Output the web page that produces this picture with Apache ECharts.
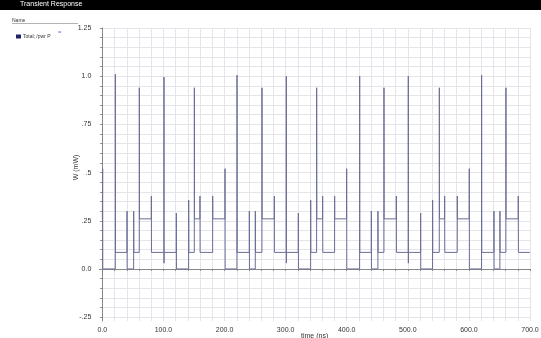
<!DOCTYPE html>
<html>
<head>
<meta charset="utf-8">
<script src="https://cdn.jsdelivr.net/npm/echarts@6/dist/echarts.min.js"></script>
<style>
html,body{margin:0;padding:0;background:#fff;}
#chart{width:541px;height:338px;}
</style>
</head>
<body>
<div id="chart"></div>
<script>
// ---- data ----
const seriesName = "Total; /pwr P";
const startLevel = 0.26;
const eventTimes = [0.4, 21.2, 40.3, 51.2, 60.4, 80.1, 100.8, 121.0, 141.2, 150.5, 159.7, 180.5,
                    200.7, 220.3, 240.5, 250.3, 261.2, 281.4, 301.0, 320.7, 340.9, 350.7, 360.5, 380.1,
                    399.8, 421.1, 440.2, 451.0, 460.9, 481.1, 500.7, 520.9, 540.5, 551.5, 560.2, 580.9,
                    600.5, 620.7, 640.9, 650.7, 660.5, 680.7];
const eventPeaks = [0.52, 1.01, 0.30, 0.30, 0.94, 0.378, 0.996, 0.29, 0.357, 0.94, 0.378, 0.378,
                    0.52, 1.005, 0.30, 0.30, 0.94, 0.378, 1.0, 0.29, 0.357, 0.94, 0.378, 0.378,
                    0.52, 1.0, 0.30, 0.30, 0.94, 0.378, 1.0, 0.29, 0.357, 0.94, 0.378, 0.378,
                    0.52, 1.005, 0.30, 0.30, 0.94, 0.378];
const eventDips  = [null, null, null, null, null, null, 0.03, null, null, null, null, null,
                    null, null, null, null, null, null, 0.03, null, null, null, null, null,
                    null, null, null, null, null, null, 0.03, null, null, null, null, null,
                    null, null, null, null, null, null];
const levelsAfter = [0, 0.086, 0, 0.086, 0.26, 0.086, 0.086, 0, 0.086, 0.26, 0.086, 0.26,
                     0, 0.086, 0, 0.086, 0.26, 0.086, 0.086, 0, 0.086, 0.26, 0.086, 0.26,
                     0, 0.086, 0, 0.086, 0.26, 0.086, 0.086, 0, 0.086, 0.26, 0.086, 0.26,
                     0, 0.086, 0, 0.086, 0.26, 0.086];
const endTime = 700;

const xTickValues = [0, 100, 200, 300, 400, 500, 600, 700];
const xTickLabels = ["0.0", "100.0", "200.0", "300.0", "400.0", "500.0", "600.0", "700.0"];
const yTickValues = [-0.25, 0, 0.25, 0.5, 0.75, 1.0, 1.25];
const yTickLabels = ["-.25", "0.0", ".25", ".5", ".75", "1.0", "1.25"];

// ---- build series ----
const wave = [[0, startLevel]];
let prev = startLevel;
for (let i = 0; i < eventTimes.length; i++) {
  const t = eventTimes[i];
  wave.push([t, prev]);
  wave.push([t + 0.1, eventPeaks[i]]);
  if (eventDips[i] !== null) wave.push([t + 0.2, eventDips[i]]);
  wave.push([t + 0.3, levelsAfter[i]]);
  prev = levelsAfter[i];
}
wave.push([endTime, prev]);

const xMinor = [];
for (let k = 0; k <= 35; k++) xMinor.push(k * 20);
const yMinor = [];
for (let k = -5; k <= 25; k++) yMinor.push(Math.round(k * 5) / 100);

const FONT = "Liberation Sans";
const chart = echarts.init(document.getElementById('chart'), null, {renderer: 'canvas'});
chart.setOption({
  animation: false,
  backgroundColor: '#ffffff',
  title: {
    text: 'Transient Response',
    left: 20, top: 1, padding: 0,
    textStyle: {color: '#ffffff', fontSize: 7, fontWeight: 'normal', fontFamily: FONT}
  },
  graphic: [
    {type: 'rect', z: -1, shape: {x: 0, y: 0, width: 541, height: 10}, style: {fill: '#000000'}},
    {type: 'text', left: 12, top: 18, style: {text: 'Name', fontSize: 5, fill: '#333', fontFamily: FONT}},
    {type: 'line', shape: {x1: 12, y1: 23.5, x2: 78, y2: 23.5}, style: {stroke: '#666', lineWidth: 0.5}},
    {type: 'text', left: 58, top: 29, style: {text: '≈', fontSize: 6, fill: '#4a5bd0', fontFamily: FONT}}
  ],
  legend: {
    left: 11, top: 29, orient: 'vertical',
    icon: 'rect', itemWidth: 5, itemHeight: 4, itemGap: 2,
    textStyle: {fontSize: 5, color: '#333', fontFamily: FONT, padding: [0, 0, 0, -3]},
    data: [seriesName]
  },
  grid: {left: 99.3, right: 11, top: 28, bottom: 17, containLabel: false, outerBoundsMode: 'none'},
  xAxis: {
    type: 'value', min: -5, max: 700,
    name: 'time (ns)', nameLocation: 'middle', nameGap: 12, nameMoveOverlap: false,
    nameTextStyle: {fontSize: 7, color: '#333', fontFamily: FONT},
    axisLine: {show: true, lineStyle: {color: '#888', width: 1}},
    axisTick: {show: true, length: 2, customValues: xMinor, lineStyle: {color: '#888'}},
    axisLabel: {
      customValues: xTickValues, margin: 6, fontSize: 7, color: '#333', fontFamily: FONT,
      formatter: v => { const i = xTickValues.indexOf(v); return i >= 0 ? xTickLabels[i] : ''; }
    },
    splitLine: {show: true, lineStyle: {color: '#e4e4ea', width: 1}}
  },
  yAxis: {
    type: 'value', min: -0.27, max: 1.25,
    name: 'W (mW)', nameLocation: 'middle', nameGap: 20, nameRotate: 90, nameMoveOverlap: false,
    nameTextStyle: {fontSize: 7, color: '#333', fontFamily: FONT, padding: [0, 0, 0, 14]},
    axisLine: {show: true, lineStyle: {color: '#888', width: 1}},
    axisTick: {show: true, length: 2, customValues: yMinor, lineStyle: {color: '#888'}},
    axisLabel: {
      customValues: yTickValues, margin: 8, fontSize: 7, color: '#333', fontFamily: FONT,
      formatter: v => {
        for (let i = 0; i < yTickValues.length; i++) if (Math.abs(yTickValues[i] - v) < 1e-9) return yTickLabels[i];
        return '';
      }
    },
    splitLine: {show: true, lineStyle: {color: '#e4e4ea', width: 1}}
  },
  series: [{
    name: seriesName, type: 'line', data: wave,
    showSymbol: false, symbol: 'none',
    color: '#1f2366',
    lineStyle: {color: '#6a6e96', width: 1}
  }]
});
</script>
</body>
</html>
